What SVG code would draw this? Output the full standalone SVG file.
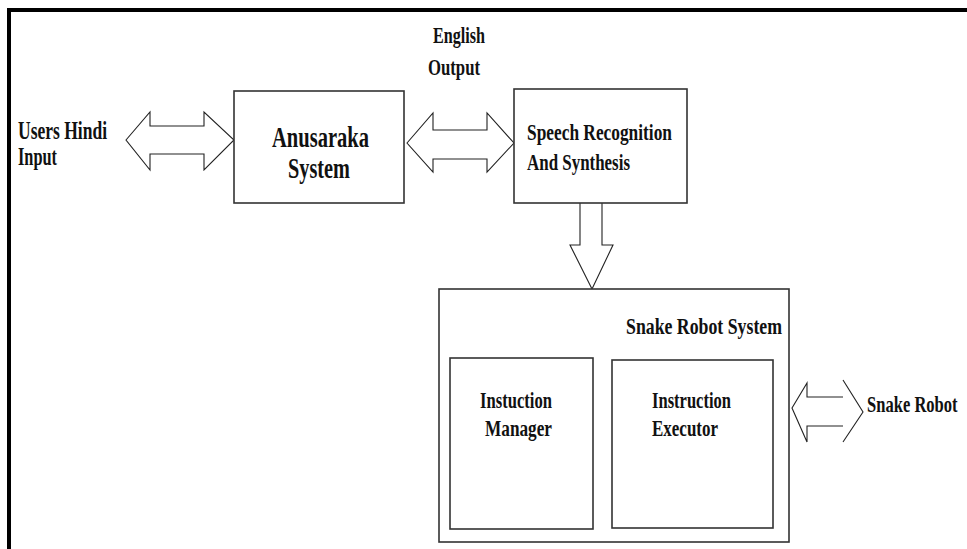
<svg xmlns="http://www.w3.org/2000/svg" width="967" height="549" viewBox="0 0 967 549">
  <style>
    .box { fill: #ffffff; stroke: #333333; stroke-width: 1.6; }
    .arrow { fill: #ffffff; stroke: #222222; stroke-width: 1.1; stroke-linejoin: miter; }
    .open { fill: none; stroke: #222222; stroke-width: 1.1; }
    .lbl { font-family: "Liberation Serif", "Times New Roman", serif; font-weight: bold; fill: #111111; }
  </style>
  <rect x="0" y="0" width="967" height="549" fill="#ffffff"/>
  <!-- page frame -->
  <path d="M9,549 V10 H967" fill="none" stroke="#000000" stroke-width="4"/>

  <g id="connectors">
    <!-- user input <-> Anusaraka -->
    <path class="arrow" d="M126,140 L150,112 L150,126 L204,126 L204,112 L234,140 L204,170 L204,154 L150,154 L150,170 Z"/>
    <!-- Anusaraka <-> speech -->
    <path class="arrow" d="M407,143 L433,113 L433,130 L487,130 L487,113 L514,143 L487,172 L487,159 L433,159 L433,172 Z"/>
    <!-- speech -> snake robot system -->
    <path class="arrow" d="M580,203 L580,245 L570,245 L592,289 L613,245 L602,245 L602,203"/>
    <!-- snake robot system <-> snake robot -->
    <path class="open" d="M843,380 L863,412 L843,442 M843,397 L807,397 L807,383 L792,408 L807,442 L807,426 L843,426"/>
  </g>

  <g id="label-english-output">
    <text class="lbl" x="433" y="43" font-size="24" textLength="52" lengthAdjust="spacingAndGlyphs">English</text>
    <text class="lbl" x="428" y="75" font-size="24" textLength="52" lengthAdjust="spacingAndGlyphs">Output</text>
  </g>

  <g id="node-user-input">
    <text class="lbl" x="18" y="139" font-size="25" textLength="89" lengthAdjust="spacingAndGlyphs">Users Hindi</text>
    <text class="lbl" x="18" y="165" font-size="25" textLength="39" lengthAdjust="spacingAndGlyphs">Input</text>
  </g>

  <g id="node-anusaraka">
    <rect class="box" x="234" y="91" width="170" height="112"/>
    <text class="lbl" x="272" y="147" font-size="29" textLength="97" lengthAdjust="spacingAndGlyphs">Anusaraka</text>
    <text class="lbl" x="288" y="178" font-size="29" textLength="62" lengthAdjust="spacingAndGlyphs">System</text>
  </g>

  <g id="node-speech">
    <rect class="box" x="514" y="89" width="173" height="114"/>
    <text class="lbl" x="527" y="140" font-size="23" textLength="145" lengthAdjust="spacingAndGlyphs">Speech Recognition</text>
    <text class="lbl" x="527" y="170" font-size="23" textLength="103" lengthAdjust="spacingAndGlyphs">And Synthesis</text>
  </g>

  <g id="node-snake-robot-system">
    <rect class="box" x="439" y="289" width="350" height="253"/>
    <text class="lbl" x="626" y="334" font-size="24" textLength="156" lengthAdjust="spacingAndGlyphs">Snake Robot System</text>
  </g>

  <g id="node-instruction-manager">
    <rect class="box" x="450" y="358" width="143" height="171"/>
    <text class="lbl" x="480" y="408" font-size="23" textLength="72" lengthAdjust="spacingAndGlyphs">Instuction</text>
    <text class="lbl" x="485" y="436" font-size="23" textLength="67" lengthAdjust="spacingAndGlyphs">Manager</text>
  </g>

  <g id="node-instruction-executor">
    <rect class="box" x="612" y="360" width="161" height="168"/>
    <text class="lbl" x="652" y="408" font-size="23" textLength="79" lengthAdjust="spacingAndGlyphs">Instruction</text>
    <text class="lbl" x="652" y="436" font-size="23" textLength="66" lengthAdjust="spacingAndGlyphs">Executor</text>
  </g>

  <g id="node-snake-robot">
    <!-- condensed horizontally so the label fits against the right edge -->
    <text class="lbl" x="0" y="0" font-size="24" transform="translate(867,412) scale(0.69,1)">Snake Robot</text>
  </g>
</svg>
